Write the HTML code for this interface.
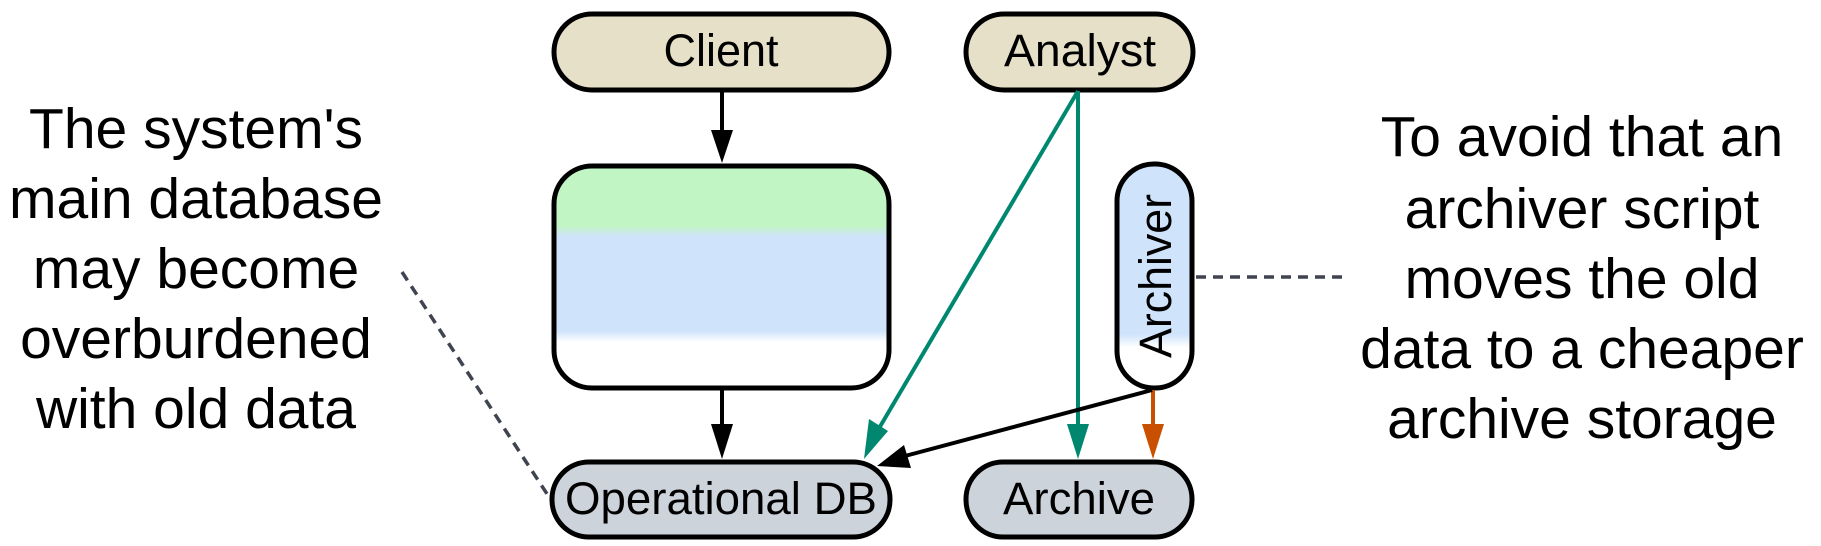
<!DOCTYPE html>
<html><head><meta charset="utf-8"><style>
html,body{margin:0;padding:0;background:#fff;}
svg{display:block;font-family:"Liberation Sans",sans-serif;}
</style></head><body>
<svg width="1821" height="546" viewBox="0 0 1821 546" xmlns="http://www.w3.org/2000/svg">
<defs>
<linearGradient id="mg" x1="0" y1="165" x2="0" y2="389" gradientUnits="userSpaceOnUse">
<stop offset="0" stop-color="#c2f5c4"/><stop offset="0.27" stop-color="#c2f5c4"/>
<stop offset="0.32" stop-color="#cfe3fb"/><stop offset="0.74" stop-color="#cfe3fb"/>
<stop offset="0.79" stop-color="#fff"/><stop offset="1" stop-color="#fff"/>
</linearGradient>
<linearGradient id="ag" x1="0" y1="163" x2="0" y2="388" gradientUnits="userSpaceOnUse">
<stop offset="0" stop-color="#cfe3fb"/><stop offset="0.76" stop-color="#cfe3fb"/>
<stop offset="0.82" stop-color="#fff"/><stop offset="1" stop-color="#fff"/>
</linearGradient>
</defs>

<!-- annotations -->
<g font-size="57" text-anchor="middle" fill="#000">
<text x="196" y="148">The system's</text>
<text x="196" y="218">main database</text>
<text x="196" y="288">may become</text>
<text x="196" y="358">overburdened</text>
<text x="196" y="428">with old data</text>
<text x="1582" y="156">To avoid that an</text>
<text x="1582" y="228">archiver script</text>
<text x="1582" y="298">moves the old</text>
<text x="1582" y="368">data to a cheaper</text>
<text x="1582" y="438">archive storage</text>
</g>
<line x1="402" y1="272" x2="551" y2="500" stroke="#3f4450" stroke-width="3.5" stroke-dasharray="10,7"/>
<line x1="1196" y1="277" x2="1345" y2="277" stroke="#3f4450" stroke-width="3.5" stroke-dasharray="10,7"/>

<!-- nodes -->
<rect x="554" y="14" width="335" height="76" rx="38" fill="#e6e0c8" stroke="#000" stroke-width="5"/>
<rect x="966" y="14" width="227" height="76" rx="38" fill="#e6e0c8" stroke="#000" stroke-width="5"/>
<rect x="554" y="166" width="335" height="222" rx="38" fill="url(#mg)" stroke="#000" stroke-width="5"/>
<rect x="1117" y="164" width="75" height="224" rx="37" fill="url(#ag)" stroke="#000" stroke-width="5"/>
<rect x="552" y="462" width="338" height="75" rx="37" fill="#cdd3db" stroke="#000" stroke-width="5"/>
<rect x="966" y="462" width="226" height="75" rx="37" fill="#cdd3db" stroke="#000" stroke-width="5"/>

<g font-size="45" text-anchor="middle" fill="#000">
<text x="721" y="66">Client</text>
<text x="1080" y="66" textLength="152" lengthAdjust="spacingAndGlyphs">Analyst</text>
<text x="721" y="514" textLength="312" lengthAdjust="spacingAndGlyphs">Operational DB</text>
<text x="1079" y="514" textLength="152" lengthAdjust="spacingAndGlyphs">Archive</text>
<text transform="translate(1171,276) rotate(-90)" x="0" y="0" textLength="164" lengthAdjust="spacingAndGlyphs">Archiver</text>
</g>

<!-- arrows -->
<line x1="722" y1="91" x2="722" y2="140" stroke="#000" stroke-width="4"/>
<path d="M711,130 L733,130 L722,163 z" fill="#000"/>
<line x1="722" y1="390" x2="722" y2="432" stroke="#000" stroke-width="4"/>
<path d="M711,424 L733,424 L722,459 z" fill="#000"/>

<line x1="1078" y1="91" x2="1078" y2="432" stroke="#00876f" stroke-width="4"/>
<path d="M1067,424 L1089,424 L1078,459 z" fill="#00876f"/>
<line x1="1078" y1="91" x2="878" y2="430" stroke="#00876f" stroke-width="4"/>
<path d="M869,419 L888,431 L864,459 z" fill="#00876f"/>

<line x1="1153" y1="390" x2="1153" y2="432" stroke="#c85000" stroke-width="4"/>
<path d="M1142,424 L1164,424 L1153,459 z" fill="#c85000"/>

<line x1="1152" y1="390" x2="905" y2="456" stroke="#000" stroke-width="4"/>
<path d="M904,445 L911,468 L877,466 z" fill="#000"/>
</svg>
</body></html>
